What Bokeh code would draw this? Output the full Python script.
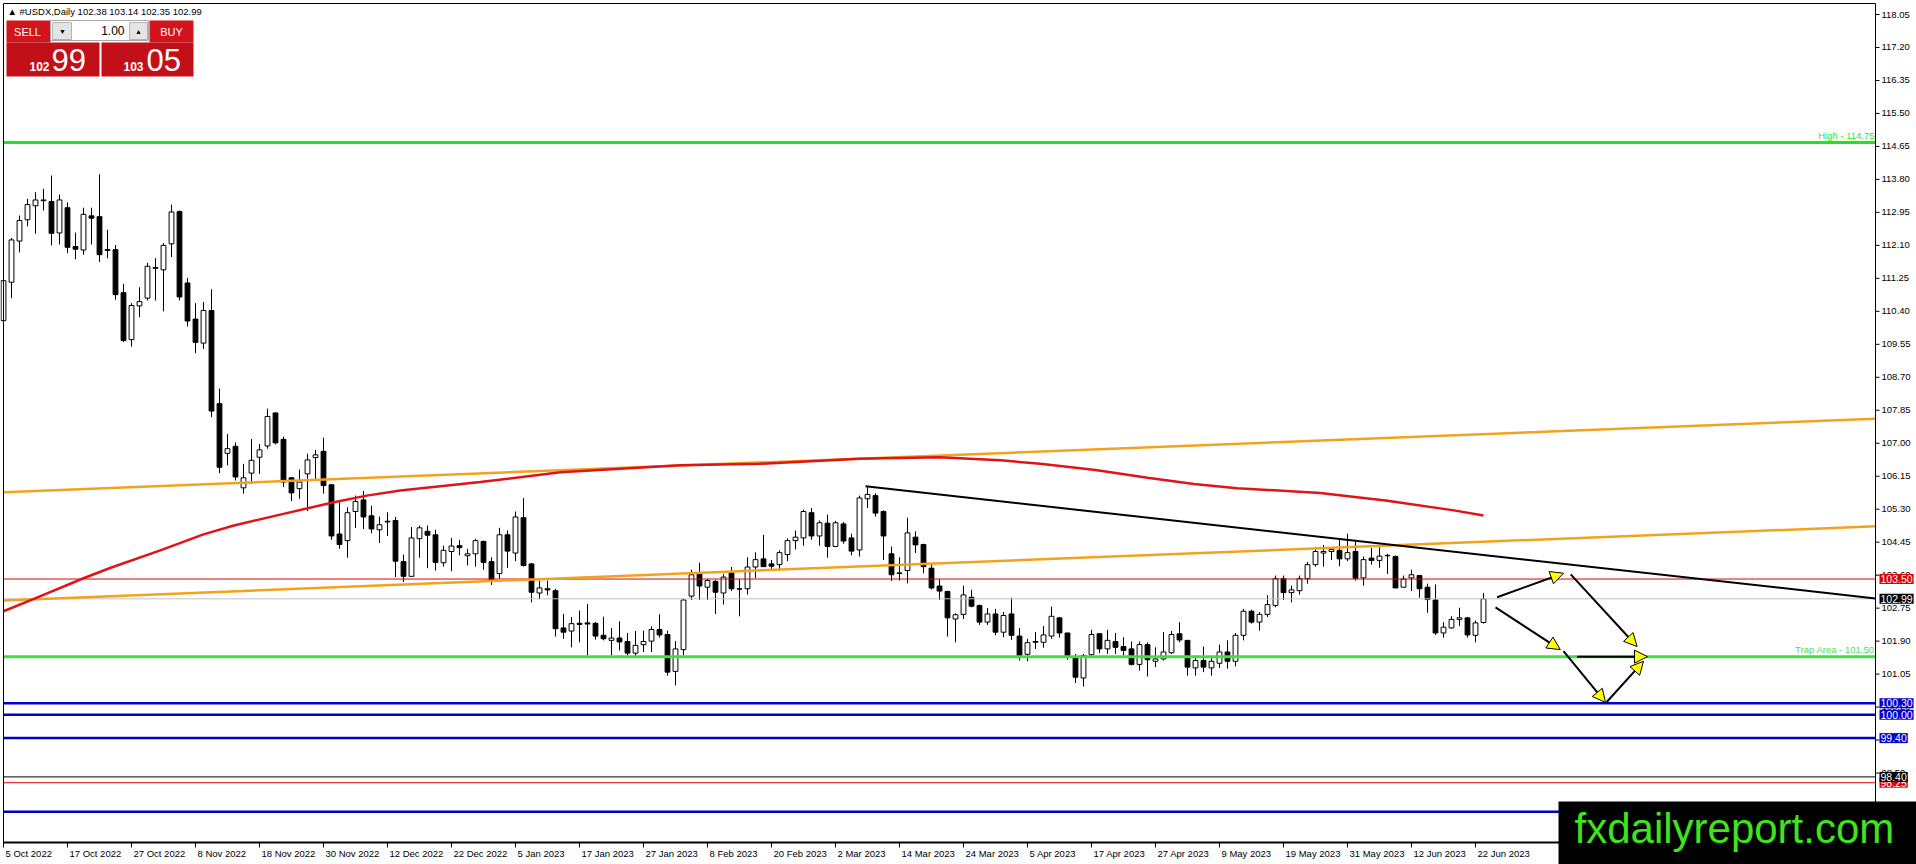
from bokeh.plotting import figure
from bokeh.models import (Range1d, Label, BoxAnnotation, Arrow, NormalHead, ColumnDataSource)
from bokeh.core.properties import value
from bokeh.embed import file_html
from bokeh.resources import INLINE

# ---------------- data ----------------
opens = [110.16, 111.15, 112.21, 112.76, 113.12, 113.25, 113.23, 112.42, 113.07, 112.07,
         111.98, 112.86, 112.84, 111.99, 111.99, 110.88, 109.67, 110.54, 110.74, 111.53,
         111.47, 112.14, 112.97, 111.13, 110.20, 109.58, 110.42, 108.02, 106.74, 106.92,
         105.85, 106.23, 106.64, 106.93, 107.78, 107.10, 106.11, 105.83, 106.21, 106.63,
         106.79, 105.93, 104.66, 104.49, 105.24, 105.54, 105.13, 104.77, 104.97, 105.01,
         103.95, 103.57, 104.54, 104.73, 104.64, 103.92, 104.21, 104.36, 104.10, 104.15,
         104.47, 103.95, 103.64, 104.64, 104.17, 105.08, 103.89, 103.14, 103.25, 103.20,
         102.24, 102.16, 102.36, 102.37, 102.36, 102.05, 101.92, 101.98, 101.89, 101.59,
         101.81, 101.90, 102.20, 102.07, 101.12, 101.68, 103.06, 103.63, 103.29, 103.44,
         103.14, 103.66, 103.25, 103.25, 103.81, 104.02, 103.89, 103.87, 104.13, 104.49,
         104.56, 105.21, 104.61, 104.94, 104.34, 104.92, 104.56, 104.25, 105.57, 105.65,
         105.24, 104.15, 103.64, 103.72, 104.58, 104.39, 103.78, 103.32, 103.18, 102.47,
         102.59, 103.03, 102.82, 102.39, 102.60, 102.13, 102.60, 102.03, 101.56, 101.87,
         101.87, 102.03, 102.50, 102.11, 101.49, 100.95, 101.55, 102.09, 101.70, 101.89,
         101.76, 101.70, 101.30, 101.81, 101.38, 101.44, 101.60, 102.09, 101.92, 101.21,
         101.40, 101.21, 101.33, 101.62, 101.38, 102.05, 102.67, 102.39, 102.59, 102.82,
         103.51, 103.15, 103.20, 103.51, 103.87, 104.17, 104.21, 104.24, 104.02, 104.21,
         103.53, 104.04, 103.98, 104.10, 104.08, 103.29, 103.53, 103.59, 103.29, 102.96,
         102.11, 102.24, 102.46, 102.50, 102.05, 102.38]
highs = [111.75, 112.29, 112.87, 113.30, 113.47, 113.56, 113.90, 113.41, 113.21, 112.43,
         113.07, 113.07, 113.93, 112.50, 112.11, 111.11, 110.61, 111.02, 111.65, 111.77,
         112.16, 113.15, 113.00, 111.26, 110.61, 110.64, 110.97, 108.41, 107.24, 107.02,
         106.47, 107.11, 106.98, 107.89, 107.80, 107.17, 106.13, 106.32, 106.73, 106.83,
         107.14, 105.95, 105.48, 105.35, 105.65, 105.77, 105.39, 105.11, 105.22, 105.10,
         104.13, 104.84, 104.88, 104.88, 104.77, 104.36, 104.56, 104.51, 104.28, 104.54,
         104.49, 104.06, 104.82, 104.75, 105.24, 105.59, 103.91, 103.46, 103.46, 103.25,
         102.60, 102.52, 102.69, 102.86, 102.39, 102.53, 102.24, 102.41, 102.11, 102.16,
         102.17, 102.28, 102.59, 102.17, 101.90, 102.99, 103.74, 103.92, 103.50, 103.48,
         103.63, 103.81, 103.50, 104.06, 104.19, 104.64, 103.99, 104.24, 104.55, 104.75,
         105.29, 105.33, 105.01, 105.16, 105.00, 104.97, 104.67, 105.65, 105.89, 105.71,
         105.27, 104.34, 104.06, 105.08, 104.73, 104.41, 103.88, 103.50, 103.20, 102.62,
         103.33, 103.22, 102.84, 102.75, 102.73, 102.65, 103.02, 102.24, 101.96, 102.13,
         102.29, 102.79, 102.52, 102.11, 101.57, 101.57, 102.19, 102.11, 102.19, 102.11,
         102.00, 101.89, 101.89, 101.87, 101.74, 102.13, 102.16, 102.39, 101.92, 101.53,
         101.76, 101.49, 101.81, 101.92, 102.11, 102.73, 102.71, 102.65, 103.08, 103.59,
         103.59, 103.33, 103.59, 103.94, 104.30, 104.38, 104.32, 104.51, 104.67, 104.47,
         104.08, 104.30, 104.32, 104.15, 104.11, 103.59, 103.74, 103.59, 103.38, 103.36,
         102.39, 102.54, 102.76, 102.52, 102.43, 103.14]
lows = [110.03, 110.74, 111.92, 112.59, 112.40, 113.00, 112.10, 112.12, 111.90, 111.74,
        111.86, 112.12, 111.67, 111.77, 110.70, 109.61, 109.49, 110.25, 110.68, 110.68,
        110.40, 111.80, 110.68, 110.01, 109.32, 109.43, 107.67, 106.23, 106.43, 106.04,
        105.70, 105.95, 106.21, 106.86, 106.97, 105.87, 105.51, 105.57, 105.25, 106.04,
        105.70, 104.51, 104.28, 104.05, 104.82, 104.79, 104.68, 104.43, 104.61, 103.55,
        103.42, 103.55, 104.05, 103.78, 103.72, 103.82, 103.70, 104.11, 103.85, 103.82,
        103.74, 103.35, 103.51, 103.79, 103.96, 103.82, 102.90, 102.98, 103.08, 102.02,
        101.96, 101.74, 101.87, 101.53, 101.94, 101.92, 101.53, 101.66, 101.53, 101.47,
        101.62, 101.62, 101.99, 101.01, 100.76, 101.53, 102.96, 102.96, 102.96, 102.60,
        102.84, 103.19, 102.54, 103.10, 103.52, 103.81, 103.74, 103.74, 103.96, 104.26,
        104.36, 104.51, 104.36, 104.05, 104.32, 104.41, 104.11, 104.08, 105.33, 105.11,
        103.99, 103.45, 103.46, 103.39, 104.17, 103.65, 103.23, 102.96, 102.02, 101.87,
        102.47, 102.77, 102.32, 102.32, 102.05, 102.00, 101.93, 101.40, 101.38, 101.70,
        101.73, 101.96, 101.99, 101.42, 100.82, 100.73, 101.49, 101.59, 101.57, 101.57,
        101.53, 101.27, 101.14, 100.99, 101.23, 101.40, 101.57, 101.87, 101.01, 101.01,
        101.10, 101.01, 101.21, 101.19, 101.25, 101.92, 102.35, 102.17, 102.52, 102.77,
        102.96, 102.90, 103.10, 103.38, 103.82, 103.82, 103.99, 103.83, 103.96, 103.46,
        103.33, 103.87, 103.79, 103.63, 103.27, 103.29, 103.19, 103.02, 102.63, 102.06,
        101.99, 102.22, 102.29, 101.99, 101.87, 102.35]
closes = [111.19, 112.24, 112.74, 113.15, 113.27, 113.27, 112.41, 113.27, 112.05, 112.00,
          112.90, 112.80, 111.86, 111.97, 110.83, 109.65, 110.55, 110.65, 111.56, 111.51,
          112.10, 112.96, 110.77, 110.15, 109.60, 110.42, 107.83, 106.38, 106.86, 106.13,
          106.11, 106.56, 106.83, 107.69, 107.01, 106.00, 105.72, 106.00, 106.57, 106.70,
          105.91, 104.61, 104.39, 105.21, 105.50, 105.10, 104.79, 104.90, 104.99, 103.96,
          103.57, 104.56, 104.82, 104.63, 103.93, 104.24, 104.35, 104.31, 104.15, 104.49,
          103.93, 103.48, 104.64, 104.22, 105.10, 103.85, 103.16, 103.27, 103.22, 102.22,
          102.13, 102.35, 102.33, 102.34, 102.03, 101.96, 101.98, 101.88, 101.59, 101.79,
          101.89, 102.20, 102.06, 101.10, 101.70, 102.96, 103.61, 103.32, 103.46, 103.16,
          103.55, 103.25, 103.24, 103.81, 104.00, 103.82, 103.83, 104.18, 104.49, 104.58,
          105.24, 104.61, 104.95, 104.34, 104.95, 104.48, 104.22, 105.59, 105.68, 105.20,
          104.61, 103.61, 103.66, 104.69, 104.38, 103.82, 103.27, 103.19, 102.50, 102.58,
          103.09, 102.80, 102.39, 102.60, 102.13, 102.56, 102.05, 101.53, 101.86, 101.89,
          102.06, 102.54, 102.11, 101.53, 100.97, 101.53, 102.07, 101.70, 101.92, 101.74,
          101.66, 101.30, 101.81, 101.42, 101.44, 101.62, 102.07, 101.93, 101.23, 101.40,
          101.23, 101.38, 101.62, 101.38, 102.05, 102.67, 102.39, 102.59, 102.84, 103.51,
          103.15, 103.22, 103.51, 103.87, 104.21, 104.21, 104.26, 104.02, 104.18, 103.52,
          104.00, 103.98, 104.09, 104.11, 103.27, 103.50, 103.61, 103.25, 102.97, 102.11,
          102.26, 102.46, 102.50, 102.06, 102.37, 102.99]
bar_index = list(range(len(opens)))

# 200-day moving average, read at sample bars
ma_index = [0, 3.8, 10, 13.4, 19.6, 25, 28.8, 35, 41.3, 45.4, 49.6, 59.6, 69.6, 84.6, 94.6,
            107, 117, 124.6, 129.6, 136.5, 143, 148.8, 154.2, 164.6, 173, 181.3, 185]
ma_value = [102.67, 102.99, 103.52, 103.79, 104.24, 104.65, 104.88, 105.18, 105.48, 105.65,
            105.78, 106.00, 106.25, 106.43, 106.47, 106.60, 106.64, 106.56, 106.47, 106.31,
            106.11, 105.95, 105.84, 105.72, 105.52, 105.27, 105.14]

# drawn objects (bar index, price)
orange_upper_x = [0.0, 234.0]
orange_upper_y = [105.74, 107.63]
orange_lower_x = [0.0, 234.0]
orange_lower_y = [102.95, 104.86]
trend_x = [107.75, 234.0]
trend_y = [105.89, 103.00]

arrow_x_start = [186.7, 195.9, 186.5, 195.0, 200.4, 196.7]
arrow_y_start = [103.03, 103.62, 102.77, 101.64, 100.33, 101.50]
arrow_x_end = [195.0, 204.2, 194.6, 200.25, 205.0, 205.5]
arrow_y_end = [103.65, 101.76, 101.68, 100.32, 101.38, 101.50]

level_high = [114.75]
level_trap = [101.50]
level_blue = [100.30, 100.00, 99.40, 97.50]
level_red_thin = [103.50, 98.25]
level_black_thin = [98.40]
level_current = [102.99]

tag_values = [103.50, 102.99, 100.30, 100.00, 99.40, 98.25, 98.40]
tag_colors = ["#e00000", "#000000", "#0000cc", "#0000cc", "#0000cc", "#e00000", "#000000"]

price_ticks = [118.05, 117.20, 116.35, 115.50, 114.65, 113.80, 112.95, 112.10, 111.25,
               110.40, 109.55, 108.70, 107.85, 107.00, 106.15, 105.30, 104.45, 103.60,
               102.75, 101.90, 101.05, 100.20, 99.35, 98.50, 97.65]

date_tick_index = [0, 8, 16, 24, 32, 40, 48, 56, 64, 72, 80, 88, 96, 104, 112, 120,
                   128, 136, 144, 152, 160, 168, 176, 184]
date_tick_labels = ["5 Oct 2022", "17 Oct 2022", "27 Oct 2022", "8 Nov 2022", "18 Nov 2022",
                    "30 Nov 2022", "12 Dec 2022", "22 Dec 2022", "5 Jan 2023", "17 Jan 2023",
                    "27 Jan 2023", "8 Feb 2023", "20 Feb 2023", "2 Mar 2023", "14 Mar 2023",
                    "24 Mar 2023", "5 Apr 2023", "17 Apr 2023", "27 Apr 2023", "9 May 2023",
                    "19 May 2023", "31 May 2023", "12 Jun 2023", "22 Jun 2023"]

# ---------------- scales ----------------
W, H = 1916, 864
PXB = 8.0                    # pixels per bar
X0 = -3.0 / PXB              # bar 0 sits 3 px from the left
X1 = X0 + W / PXB
PXV = 38.8                   # pixels per price unit
Y1 = 118.05 + 14.0 / PXV     # 118.05 sits 14 px from the top
Y0 = Y1 - H / PXV
FONT = "Liberation Sans"


def PX(rx):
    return X0 + rx / PXB


def PY(ry):
    return Y1 - ry / PXV


# chart area (MT4 window inside the canvas)
CL, CR = PX(3), PX(1875)
CT, CB = PY(3), PY(842)

p = figure(width=W, height=H, title=None,
           x_range=Range1d(X0, X1), y_range=Range1d(Y0, Y1),
           output_backend="svg", toolbar_location=None,
           x_axis_location=None, y_axis_location=None,
           min_border=0, min_border_left=0, min_border_right=0,
           min_border_top=0, min_border_bottom=0,
           background_fill_color="white", border_fill_color="white",
           outline_line_color=None)
p.grid.visible = False

# ---------------- candles ----------------
up = [i for i in bar_index if closes[i] >= opens[i]]
dn = [i for i in bar_index if closes[i] < opens[i]]
wick_src = ColumnDataSource(dict(x=bar_index, h=highs, l=lows))
p.segment(x0="x", y0="l", x1="x", y1="h", source=wick_src, line_color="black", line_width=1)
up_src = ColumnDataSource(dict(x=up, top=[closes[i] for i in up], bottom=[opens[i] for i in up]))
dn_src = ColumnDataSource(dict(x=dn, top=[opens[i] for i in dn], bottom=[closes[i] for i in dn]))
p.vbar(x="x", top="top", bottom="bottom", width=0.6, source=up_src,
       fill_color="white", line_color="black", line_width=1)
p.vbar(x="x", top="top", bottom="bottom", width=0.6, source=dn_src,
       fill_color="black", line_color="black", line_width=1)


# ---------------- horizontal levels ----------------
def hlevels(levels, color, width):
    n = len(levels)
    p.segment(x0=[CL] * n, x1=[CR] * n, y0=levels, y1=levels, line_color=color, line_width=width)


hlevels(level_current, "#c0c0c0", 1)
hlevels(level_red_thin, "#e00000", 1)
hlevels(level_black_thin, "black", 1)
hlevels(level_blue, "#0000cc", 2.5)
hlevels(level_high, "#1ee61e", 3)
hlevels(level_trap, "#44dd44", 3)

p.line(orange_upper_x, orange_upper_y, line_color="#f2a21e", line_width=2.5)
p.line(orange_lower_x, orange_lower_y, line_color="#f2a21e", line_width=2.5)
p.line(ma_index, ma_value, line_color="#e01418", line_width=2.5)
p.line(trend_x, trend_y, line_color="black", line_width=2)

arrow_src = ColumnDataSource(dict(xs=arrow_x_start, ys=arrow_y_start, xe=arrow_x_end, ye=arrow_y_end))
p.add_layout(Arrow(end=NormalHead(size=13, fill_color="#ffff00", line_color="black", line_width=1),
                   source=arrow_src, x_start="xs", y_start="ys", x_end="xe", y_end="ye",
                   line_color="black", line_width=2))

# ---------------- axes (MT4 style, drawn on the library's scales) ----------------
p.segment(x0=[CL, CL, CR], y0=[CB, CT, CB], x1=[CL, CR, CR], y1=[CT, CT, CT],
          line_color="black", line_width=1)
p.segment(x0=[CL], y0=[CB], x1=[CR], y1=[CB], line_color="black", line_width=2)

nt = len(price_ticks)
p.segment(x0=[CR] * nt, x1=[PX(1879)] * nt, y0=price_ticks, y1=price_ticks,
          line_color="black", line_width=1)
p.text(x=[PX(1881)] * nt, y=price_ticks, text=["%.2f" % v for v in price_ticks],
       text_align="left", text_baseline="middle", text_color="black",
       text_font=value(FONT), text_font_size=value("9.5px"))

nd = len(date_tick_index)
p.segment(x0=date_tick_index, x1=date_tick_index, y0=[CB] * nd, y1=[PY(847)] * nd,
          line_color="black", line_width=1)
p.text(x=[i + 2.0 / PXB for i in date_tick_index], y=[PY(853)] * nd, text=date_tick_labels,
       text_align="left", text_baseline="middle", text_color="black",
       text_font=value(FONT), text_font_size=value("9.5px"))

# level texts
p.add_layout(Label(x=CR - 1.0 / PXB, y=level_high[0] + 2.0 / PXV, text="High - %.2f" % level_high[0],
                   text_align="right", text_baseline="bottom", text_color="#22ee22",
                   text_font=FONT, text_font_size="9.5px"))
p.add_layout(Label(x=CR - 1.0 / PXB, y=level_trap[0] + 2.0 / PXV, text="Trap Area - %.2f" % level_trap[0],
                   text_align="right", text_baseline="bottom", text_color="#55dd55",
                   text_font=FONT, text_font_size="9.5px"))

# price tags on the axis
for v, c in zip(tag_values, tag_colors):
    p.add_layout(Label(x=PX(1879), y=v, text="%.2f" % v, text_align="left",
                       text_baseline="middle", text_color="white", text_font=FONT,
                       text_font_size="10.5px", background_fill_color=c, background_fill_alpha=1.0,
                       padding=1))


# ---------------- top-left panel ----------------
def box(l, t, r, b, color, line=None):
    p.add_layout(BoxAnnotation(left=PX(l), right=PX(r), top=PY(t), bottom=PY(b),
                               fill_color=color, fill_alpha=1.0,
                               line_color=line if line else None, line_alpha=1.0, line_width=1))


box(6, 20, 50, 42, "#d3141c")
box(6, 42, 99, 76, "#c31018")
box(149, 20, 193, 42, "#d3141c")
box(101, 42, 193, 76, "#c31018")
box(50, 20, 148, 40, "white", "#a8a8a8")
box(52, 22, 71, 39, "#e4e4e4", "#b4b4b4")
box(129, 22, 147, 39, "#e4e4e4", "#b4b4b4")


def txt(rx, ry, s, size, color, align="left", base="middle", style="normal"):
    p.add_layout(Label(x=PX(rx), y=PY(ry), text=s, text_align=align, text_baseline=base,
                       text_color=color, text_font=FONT, text_font_size=size,
                       text_font_style=style))


txt(7, 11, "\u25b2 #USDX,Daily  102.38 103.14 102.35 102.99", "9.5px", "black")
txt(27, 31, "SELL", "11px", "white", align="center")
txt(171, 31, "BUY", "11px", "white", align="center")
txt(62, 30.5, "\u25bc", "7px", "black", align="center")
txt(138, 30.5, "\u25b2", "7px", "black", align="center")
txt(124, 30, "1.00", "12px", "black", align="right")
txt(49, 65.5, "102", "12px", "white", align="right", style="bold")
txt(51, 59.5, "99", "31px", "white")
txt(143, 65.5, "103", "12px", "white", align="right", style="bold")
txt(146, 59.5, "05", "31px", "white")

# ---------------- watermark ----------------
box(1558, 801, 1916, 864, "black")
txt(1574, 828, "fxdailyreport.com", "42px", "#3fe41d")

open("out.html", "w").write(file_html(p, INLINE))
